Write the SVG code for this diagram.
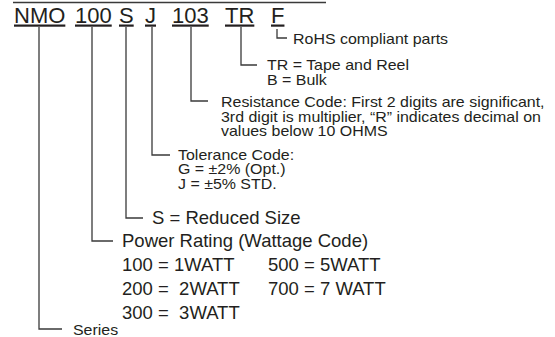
<svg xmlns="http://www.w3.org/2000/svg" width="555" height="337" viewBox="0 0 555 337">
<style>
text{font-family:"Liberation Sans",Arial,sans-serif;fill:#231f20;white-space:pre}
.code{font-size:22px;text-decoration:underline}
.s{font-size:14px}
.m{font-size:18.5px}
.c{fill:none;stroke:#3a3a3a;stroke-width:1.3}
</style>
<rect width="555" height="337" fill="#fff"/>
<line x1="13" y1="2.5" x2="326" y2="2.5" class="c"/>
<g id="codes">
<text class="code" x="14" y="22.5">NMO</text>
<text class="code" x="75" y="22.5">100</text>
<text class="code" x="119" y="22.5">S</text>
<text class="code" x="145" y="22.5">J</text>
<text class="code" x="172" y="22.5">103</text>
<text class="code" x="225" y="22.5">TR</text>
<text class="code" x="271" y="22.5">F</text>
</g>
<g id="connectors">
<polyline class="c" points="39,27 39,329 62,329"/>
<polyline class="c" points="92,27 92,241 113,241"/>
<polyline class="c" points="126,27 126,218 143,218"/>
<polyline class="c" points="152,27 152,155 170,155"/>
<polyline class="c" points="191,27 191,101 208,101"/>
<polyline class="c" points="241,27 241,65 257,65"/>
<polyline class="c" points="277,29 277,38 287,38"/>
</g>
<g id="rohs" transform="matrix(1.14,0,0,1,-41.02,0)"><text class="s" x="293" y="44">RoHS compliant parts</text></g>
<g id="packaging" transform="matrix(1.14,0,0,1,-37.38,0)">
<text class="s" x="267" y="70">TR = Tape and Reel</text>
<text class="s" x="267" y="85">B = Bulk</text>
</g>
<g id="resistance" transform="matrix(1.14,0,0,1,-30.94,0)">
<text class="s" x="221" y="107.5">Resistance Code: First 2 digits are significant,</text>
<text class="s" x="221" y="122">3rd digit is multiplier, “R” indicates decimal on</text>
<text class="s" x="221" y="136.5">values below 10 OHMS</text>
</g>
<g id="tolerance" transform="matrix(1.14,0,0,1,-24.92,0)">
<text class="s" x="178" y="160">Tolerance Code:</text>
<text class="s" x="178" y="174.5">G = ±2% (Opt.)</text>
<text class="s" x="178" y="189">J = ±5% STD.</text>
</g>
<g id="size"><text class="m" x="152" y="224">S = Reduced Size</text></g>
<g id="power">
<text class="m" x="122" y="247">Power Rating (Wattage Code)</text>
<text class="m" x="122" y="271">100 = 1WATT</text>
<text class="m" x="122" y="295">200 =  2WATT</text>
<text class="m" x="122" y="319">300 =  3WATT</text>
<text class="m" x="268" y="271">500 = 5WATT</text>
<text class="m" x="268" y="295">700 = 7 WATT</text>
</g>
<g id="series" transform="matrix(1.14,0,0,1,-10.22,0)"><text class="s" x="73" y="335">Series</text></g>
</svg>
